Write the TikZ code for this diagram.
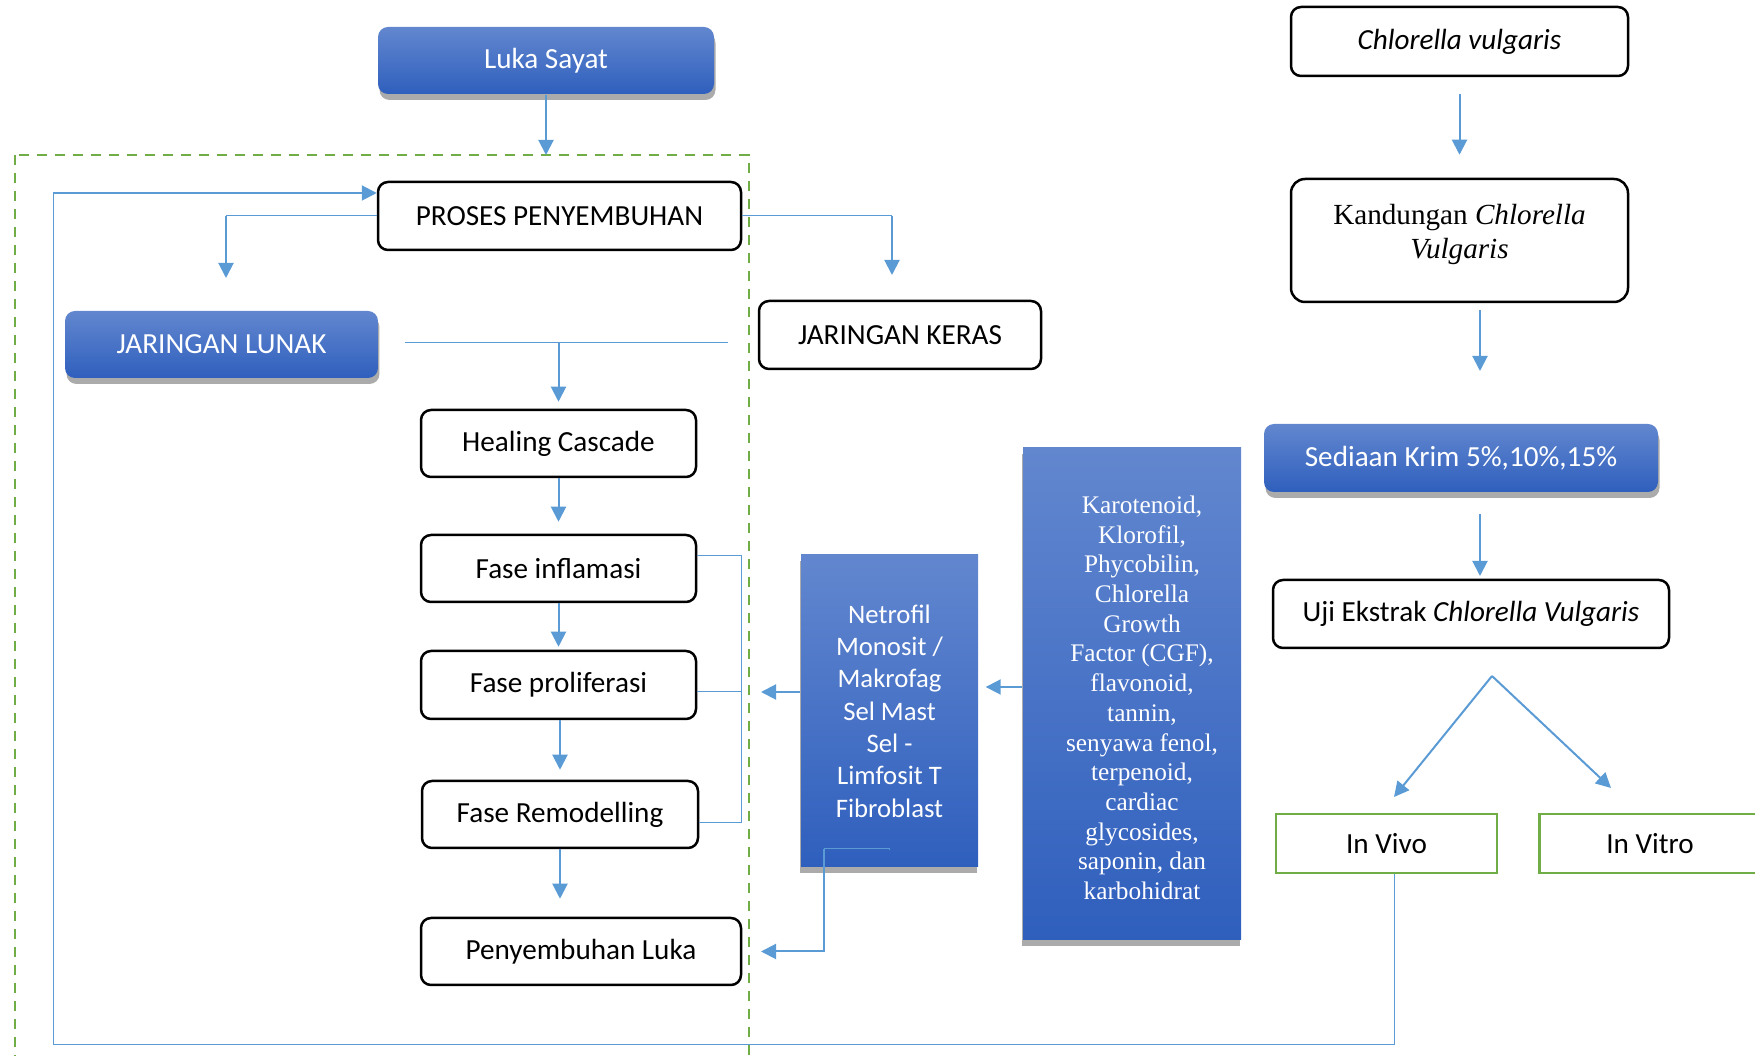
\documentclass[tikz,border=0pt]{standalone}
\usepackage{fontspec}
\setmainfont{Carlito}
\newfontfamily\timesfont{Liberation Serif}
\usepackage{tikz}
\usetikzlibrary{positioning, shadows, arrows.meta}
\definecolor{lineblue}{HTML}{5B9BD5}
\definecolor{boxtop}{HTML}{6287CF}
\definecolor{boxbot}{HTML}{2F5FBD}
\definecolor{framegreen}{HTML}{70AD47}
\tikzstyle{bluebox} = [rectangle, rounded corners=1mm, minimum height=6.7mm, text centered, top color=boxtop, bottom color=boxbot, text=white, drop shadow={shadow xshift=0.15mm, shadow yshift=-0.6mm, fill=black!55, opacity=0.6}, font=\fontsize{8.3}{10}\selectfont]
\tikzstyle{bluecol} = [rectangle, align=center, top color=boxtop, bottom color=boxbot, text=white, drop shadow={shadow xshift=-0.1mm, shadow yshift=-0.6mm, fill=black!55, opacity=0.6}]
\tikzstyle{process} = [rectangle, rounded corners=1mm, minimum height=6.7mm, text centered, draw=black, line width=0.25mm, fill=white, font=\fontsize{8.3}{10}\selectfont]
\tikzstyle{testbox} = [rectangle, minimum width=22.1mm, minimum height=5.9mm, text centered, draw=framegreen, line width=0.25mm, font=\fontsize{8.3}{10}\selectfont]
\tikzstyle{arrow} = [line width=0.2mm, draw=lineblue, -{Triangle[length=1.5mm, width=1.5mm]}]
\tikzstyle{thinline} = [line width=0.1mm, draw=lineblue]

\begin{document}
\begin{tikzpicture}[x=0.1mm, y=-0.1mm, node distance=12.5mm]

        \useasboundingbox (0,0) rectangle (1755,1056);

        % Proses penyembuhan
        \node (luka) [bluebox, minimum width=33.6mm] at (546,60.5) {Luka Sayat};
        \node (proses) [process, minimum width=36.3mm, minimum height=6.8mm] at (559.5,216) {PROSES PENYEMBUHAN};
        \node (lunak) [bluebox, minimum width=31.3mm] at (221.5,344.5) {JARINGAN LUNAK};
        \node (keras) [process, minimum width=28.2mm, minimum height=6.8mm] at (900,335) {JARINGAN KERAS};
        \node (healing) [process, minimum width=27.5mm] at (558.5,443.5) {Healing Cascade};
        \node (inflamasi) [process, minimum width=27.5mm, below of=healing] {Fase inflamasi};
        \node (proliferasi) [process, minimum width=27.5mm, minimum height=6.8mm, below of=inflamasi, yshift=0.85mm] {Fase proliferasi};
        \node (remodelling) [process, minimum width=27.6mm, below of=proliferasi, yshift=-0.45mm, xshift=0.15mm] {Fase Remodelling};
        \node (penyembuhan) [process, minimum width=32mm, below of=remodelling, yshift=-1.2mm, xshift=2.1mm] {Penyembuhan Luka};

        % Sel dan kandungan
        \node (netrofil) [bluecol, minimum width=17.7mm, minimum height=31.2mm, font=\fontsize{7.6}{9.2}\selectfont] at (889.5,711) {Netrofil\\ Monosit /\\ Makrofag\\ Sel Mast\\ Sel -\\ Limfosit T\\ Fibroblast};
        \node (karotenoid) [bluecol, minimum width=21.8mm, minimum height=49.2mm, font=\timesfont\fontsize{7.2}{8.45}\selectfont] at (1132,694) {\hspace*{2mm}\begin{tabular}{@{}c@{}}\rule{0pt}{3.4mm}Karotenoid,\\ Klorofil,\\ Phycobilin,\\ Chlorella\\ Growth\\ Factor (CGF),\\ flavonoid,\\ tannin,\\ senyawa fenol,\\ terpenoid,\\ cardiac\\ glycosides,\\ saponin, dan\\ karbohidrat\end{tabular}};

        % Chlorella vulgaris
        \node (chlorella) [process, minimum width=33.7mm, minimum height=6.9mm] at (1459.5,41.5) {\textit{Chlorella vulgaris}};
        \node (kandungan) [process, rounded corners=1.4mm, minimum width=33.7mm, minimum height=12.3mm, align=center, font=\timesfont\fontsize{8.3}{9.8}\selectfont] at (1459.5,240.5) {Kandungan \textit{Chlorella}\\ \textit{Vulgaris}\rule[-1.8mm]{0pt}{1mm}};
        \node (sediaan) [bluebox, minimum width=39.4mm, minimum height=6.8mm] at (1461,458) {Sediaan Krim 5\%,10\%,15\%};
        \node (uji) [process, minimum width=39.6mm, minimum height=6.8mm] at (1471,614) {Uji Ekstrak \textit{Chlorella Vulgaris}};
        \node (invivo) [testbox] at (1386.5,843.5) {In Vivo};
        \node (invitro) [testbox, right=4mm of invivo] {In Vitro};

        \coordinate (frameNW) at (15,155);
        \coordinate (frameSE) at (749,1075);
        \coordinate (lunakTip) at (226,278);
        \coordinate (kerasTip) at (892,275);
        \coordinate (lunakLeft) at (405,343);
        \coordinate (lunakRight) at (728,343);
        \coordinate (bracketTop) at (741,556);
        \coordinate (bracketBot) at (741,823);
        \coordinate (bracketIn) at (761,692);
        \coordinate (cellsBend) at (824,849);
        \coordinate (lukaIn) at (761,951.5);
        \coordinate (sediaanTip) at (1480,371);
        \coordinate (ujiTip) at (1480,576);
        \coordinate (split) at (1492,676);
        \coordinate (vivoTip) at (1394,797);
        \coordinate (vitroTip) at (1611,788);
        \coordinate (loopSE) at (1394,1045);
        \coordinate (loopSW) at (53,1045);
        \coordinate (loopNW) at (53,193);

        \draw [framegreen, line width=0.27mm, dash pattern=on 1mm off 0.8mm] (frameNW) rectangle (frameSE);

        % Panah kiri
        \draw [arrow] (luka.south) -- (luka.south |- frameNW);
        \draw [thinline] (proses.west) -- (proses.west -| lunakTip);
        \draw [arrow] (proses.west -| lunakTip) -- (lunakTip);
        \draw [thinline] (proses.east) -- (proses.east -| kerasTip);
        \draw [arrow] (proses.east -| kerasTip) -- (kerasTip);
        \draw [thinline] (lunakLeft) -- (lunakRight);
        \draw [arrow, shorten >=0.7mm] (healing.north |- lunakLeft) -- (healing.north);
        \draw [arrow, shorten >=1.2mm] (healing) -- (inflamasi);
        \draw [arrow, shorten >=0.3mm] (inflamasi) -- (proliferasi);
        \draw [arrow, shorten >=1mm] (proliferasi.south -| remodelling) -- (remodelling.north);
        \draw [arrow, shorten >=1.8mm] (remodelling.south) -- (remodelling.south |- penyembuhan.north);

        \draw [thinline] (inflamasi.east |- bracketTop) -- (bracketTop) -- (bracketBot) -- (remodelling.east |- bracketBot);
        \draw [thinline] (proliferasi.east |- bracketIn) -- (bracketIn -| bracketTop);
        \draw [arrow] (netrofil.west |- bracketIn) -- (bracketIn);
        \coordinate (karoOut) at ([yshift=0.7mm]karotenoid.west);
        \draw [arrow, shorten >=0.7mm] (karoOut) -- (netrofil.east |- karoOut);
        \draw [thinline] ([yshift=1.8mm]netrofil.south) |- (cellsBend);
        \draw [arrow] (cellsBend) |- (lukaIn);

        % Panah kanan
        \draw [arrow, shorten <=1.7mm, shorten >=2.3mm] (chlorella) -- (kandungan);
        \draw [arrow, shorten <=0.7mm] (kandungan.south -| sediaanTip) -- (sediaanTip);
        \draw [arrow, shorten <=2.1mm] (sediaan.south -| ujiTip) -- (ujiTip);
        \draw [arrow] (split) -- (vivoTip);
        \draw [arrow] (split) -- (vitroTip);

        % Kembali ke proses
        \draw [thinline] (invivo.south -| loopSE) -- (loopSE) -- (loopSW) -- (loopNW);
        \draw [arrow] (loopNW) -- (proses.west |- loopNW);

    \end{tikzpicture}
\end{document}
